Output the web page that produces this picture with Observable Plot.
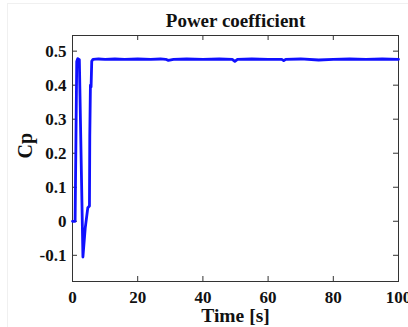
<!DOCTYPE html>
<html><head><meta charset="utf-8">
<script src="https://cdn.jsdelivr.net/npm/d3@7"></script>
<script src="https://cdn.jsdelivr.net/npm/@observablehq/plot@0.6"></script>
<style>
body{margin:0;background:#fff}
svg{display:block}
#wrap{position:relative;width:408px;height:327px}
#edge{position:absolute;left:7px;top:3px;right:0;bottom:0;border-left:1px solid #f0f0f0;border-top:1px solid #f0f0f0;pointer-events:none}
</style>
</head><body><div id="wrap"><div id="chart"></div><div id="edge"></div></div>
<script>
const time = [0, 0.8, 1.3, 1.6, 2.1, 3.2, 3.9, 4.7, 5.2, 5.3, 5.5, 5.7, 5.9, 6.3, 8, 10, 13, 16, 20, 24, 27, 28.6, 29.4, 31, 35, 40, 45, 49, 49.8, 50.6, 55, 60, 64.2, 64.8, 65.4, 70, 75.5, 80, 85, 90, 95, 100];
const cp = [0, 0, 0.47, 0.478, 0.475, -0.105, -0.02, 0.04, 0.045, 0.25, 0.40, 0.395, 0.47, 0.476, 0.477, 0.476, 0.477, 0.476, 0.477, 0.476, 0.477, 0.476, 0.473, 0.476, 0.477, 0.476, 0.477, 0.476, 0.470, 0.476, 0.477, 0.476, 0.476, 0.472, 0.476, 0.477, 0.474, 0.476, 0.477, 0.476, 0.477, 0.476];
const xTicks = [0, 20, 40, 60, 80, 100];
const yTicks = [-0.1, 0, 0.1, 0.2, 0.3, 0.4, 0.5];
const title = "Power coefficient";
const xLabel = "Time [s]";
const yLabel = "Cp";

const data = time.map((t, i) => ({t, cp: cp[i]}));
const W = 408, H = 327, mL = 72, mR = 10, mT = 35, mB = 46;
const pw = W - mL - mR, ph = H - mT - mB;
const tick = 5;
const font = "'Liberation Serif','Times New Roman',serif";
const chart = Plot.plot({
  width: W, height: H, marginLeft: mL, marginRight: mR, marginTop: mT, marginBottom: mB,
  style: {fontFamily: font, fontWeight: "bold", fontSize: "17px", background: "transparent", color: "#111"},
  x: {domain: [0, 100]},
  y: {domain: [-0.177, 0.546]},
  marks: [
    Plot.axisX(xTicks, {tickSize: 0, tickPadding: 9, label: null, fontSize: 17, fontWeight: "bold"}),
    Plot.axisY(yTicks, {tickSize: 0, tickPadding: 6, label: null, fontSize: 17, fontWeight: "bold", tickFormat: d => d === 0 ? "0" : d.toFixed(1)}),
    Plot.tickX(xTicks, {x: d => d, insetTop: ph - tick, stroke: "#333"}),
    Plot.tickX(xTicks, {x: d => d, insetBottom: ph - tick, stroke: "#333"}),
    Plot.tickY(yTicks, {y: d => d, insetRight: pw - tick, stroke: "#333"}),
    Plot.tickY(yTicks, {y: d => d, insetLeft: pw - tick, stroke: "#333"}),
    Plot.frame({stroke: "#333"}),
    Plot.line(data, {x: "t", y: "cp", stroke: "#1010ff", strokeWidth: 2.8}),
    Plot.text([title], {text: d => d, frameAnchor: "top", dy: -15, lineAnchor: "middle", fontSize: 19, fontWeight: "bold"}),
    Plot.text([xLabel], {text: d => d, frameAnchor: "bottom", dy: 34.5, lineAnchor: "middle", fontSize: 19.5, fontWeight: "bold"}),
    Plot.text([yLabel], {text: d => d, frameAnchor: "left", dx: -47, rotate: -90, lineAnchor: "middle", fontSize: 20, fontWeight: "bold"})
  ]
});
document.getElementById("chart").append(chart);
</script>
</body></html>
